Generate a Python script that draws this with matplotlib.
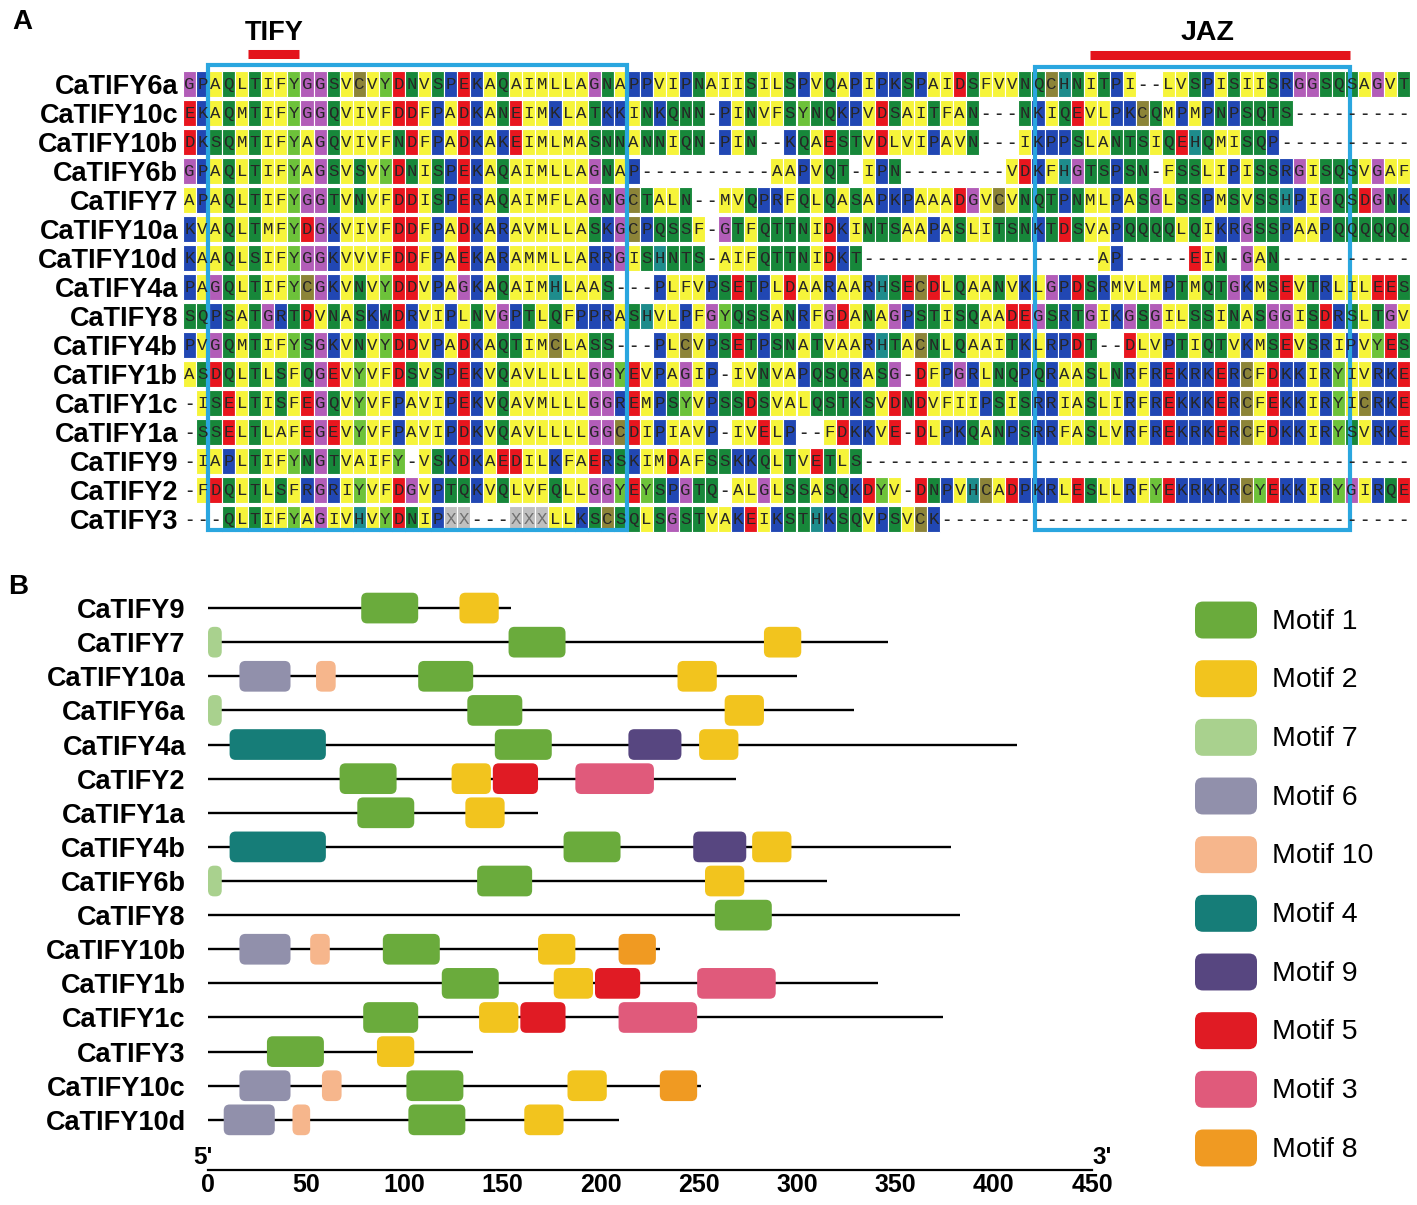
import matplotlib
matplotlib.use("Agg")
import matplotlib.pyplot as plt
from matplotlib.patches import FancyBboxPatch, Rectangle

plt.rcParams['font.family'] = ['Liberation Sans', 'DejaVu Sans']

# ---------------- Panel A data: alignment ----------------
names_a = ["CaTIFY6a", "CaTIFY10c", "CaTIFY10b", "CaTIFY6b", "CaTIFY7", "CaTIFY10a",
           "CaTIFY10d", "CaTIFY4a", "CaTIFY8", "CaTIFY4b", "CaTIFY1b", "CaTIFY1c",
           "CaTIFY1a", "CaTIFY9", "CaTIFY2", "CaTIFY3"]

seqs = [
    "GPAQLTIFYGGSVCVYDNVSPEKAQAIMLLAG" "NA" "PPVIPNAIISILSPVQAPI" "PKSPAIDSFVVN" "QCHNITPI--LVSPISIISRGGSQSAGVT",
    "EKAQMTIFYGGQVIVFDDFPADKANEIMKLAT" "KK" "INKQNN-PINVFSYNQKPV" "DSAITFAN---N" "KIQEVLPKCQMPMPNPSQTS---------",
    "DKSQMTIFYAGQVIVFNDFPADKAKEIMLMAS" "NN" "ANNIQN-PIN--KQAESTV" "DLVIPAVN---I" "KPPSLANTSIQEHQMISQP----------",
    "GPAQLTIFYAGSVSVYDNISPEKAQAIMLLAG" "NA" "P----------AAPVQT-I" "PN--------VD" "KFHGTSPSN-FSSLIPISSRGISQSVGAF",
    "APAQLTIFYGGTVNVFDDISPERAQAIMFLAG" "NG" "CTALN--MVQPRFQLQASA" "PKPAAADGVCVN" "QTPNMLPASGLSSPMSVSSHPIGQSDGNK",
    "KVAQLTMFYDGKVIVFDDFPADKARAVMLLAS" "KG" "CPQSSF-GTFQTTNIDKIN" "TSAAPASLITSN" "KTDSVAPQQQQLQIKRGSSPAAPQQQQQQ",
    "KAAQLSIFYGGKVVVFDDFPAEKARAMMLLAR" "RG" "ISHNTS-AIFQTTNIDKT-" "------------" "-----AP-----EIN-GAN----------",
    "PAGQLTIFYCGKVNVYDDVPAGKAQAIMHLAA" "S-" "--PLFVPSETPLDAARAAR" "HSECDLQAANVK" "LGPDSRMVLMPTMQTGKMSEVTRLILEES",
    "SQPSATGRTDVNASKWDRVIPLNVGPTLQFPP" "RA" "SHVLPFGYQSSANRFGDAN" "AGPSTISQAADE" "GSRTGIKGSGILSSINASGGISDRSLTGV",
    "PVGQMTIFYSGKVNVYDDVPADKAQTIMCLAS" "S-" "--PLCVPSETPSNATVAAR" "HTACNLQAAITK" "LRPDT--DLVPTIQTVKMSEVSRIPVYES",
    "ASDQLTLSFQGEVYVFDSVSPEKVQAVLLLLG" "GY" "EVPAGIP-IVNVAPQSQRA" "SG-DFPGRLNQP" "QRAASLNRFREKRKERCFDKKIRYIVRKE",
    "-ISELTISFEGQVYVFPAVIPEKVQAVMLLLG" "GR" "EMPSYVPSSDSVALQSTKS" "VDNDVFIIPSIS" "RRIASLIRFREKKKERCFEKKIRYICRKE",
    "-SSELTLAFEGEVYVFPAVIPDKVQAVLLLLG" "GC" "DIPIAVP-IVELP--FDKK" "VE-DLPKQANPS" "RRFASLVRFREKRKERCFDKKIRYSVRKE",
    "-IAPLTIFYNGTVAIFY-VSKDKAEDILKFAE" "RS" "KIMDAFSSKKQLTVETLS-" "------------" "-----------------------------",
    "-FDQLTLSFRGRIYVFDGVPTQKVQLVFQLLG" "GY" "EYSPGTQ-ALGLSSASQKD" "YV-DNPVHCADP" "KRLESLLRFYEKRKKRCYEKKIRYGIRQE",
    "---QLTIFYAGIVHVYDNIPXX---XXXLLKS" "CS" "QLSGSTVAKEIKSTHKSQV" "PSVCK-------" "-----------------------------",
]

# domain boxes (alignment columns / rows)
tify_box = (1.92, 34.0)
jaz_box = (65.3, 89.4)
tify_bar = (5.0, 8.9)
jaz_bar = (69.5, 89.4)

# residue colour classes
res_color = {}
for r in "AILMFV":
    res_color[r] = "#F6F43A"
for r in "STNQW":
    res_color[r] = "#17873A"
for r in "KRP":
    res_color[r] = "#2147B3"
for r in "DE":
    res_color[r] = "#E8161E"
res_color["G"] = "#B25DB8"
res_color["Y"] = "#6DC23A"
res_color["C"] = "#8C8438"
res_color["H"] = "#1E8C8C"
res_color["X"] = "#C0C0C0"

# ---------------- Panel B data: motifs ----------------
genes_b = ["CaTIFY9", "CaTIFY7", "CaTIFY10a", "CaTIFY6a", "CaTIFY4a", "CaTIFY2",
           "CaTIFY1a", "CaTIFY4b", "CaTIFY6b", "CaTIFY8", "CaTIFY10b", "CaTIFY1b",
           "CaTIFY1c", "CaTIFY3", "CaTIFY10c", "CaTIFY10d"]
lengths_b = [154, 346, 300, 329, 412, 269, 168, 378, 315, 383, 230, 341, 374, 135, 251, 209]

hit_gene = ["CaTIFY9", "CaTIFY9",
            "CaTIFY7", "CaTIFY7", "CaTIFY7",
            "CaTIFY10a", "CaTIFY10a", "CaTIFY10a", "CaTIFY10a",
            "CaTIFY6a", "CaTIFY6a", "CaTIFY6a",
            "CaTIFY4a", "CaTIFY4a", "CaTIFY4a", "CaTIFY4a",
            "CaTIFY2", "CaTIFY2", "CaTIFY2", "CaTIFY2",
            "CaTIFY1a", "CaTIFY1a",
            "CaTIFY4b", "CaTIFY4b", "CaTIFY4b", "CaTIFY4b",
            "CaTIFY6b", "CaTIFY6b", "CaTIFY6b",
            "CaTIFY8",
            "CaTIFY10b", "CaTIFY10b", "CaTIFY10b", "CaTIFY10b", "CaTIFY10b",
            "CaTIFY1b", "CaTIFY1b", "CaTIFY1b", "CaTIFY1b",
            "CaTIFY1c", "CaTIFY1c", "CaTIFY1c", "CaTIFY1c",
            "CaTIFY3", "CaTIFY3",
            "CaTIFY10c", "CaTIFY10c", "CaTIFY10c", "CaTIFY10c", "CaTIFY10c",
            "CaTIFY10d", "CaTIFY10d", "CaTIFY10d", "CaTIFY10d"]
hit_motif = [1, 2,
             7, 1, 2,
             6, 10, 1, 2,
             7, 1, 2,
             4, 1, 9, 2,
             1, 2, 5, 3,
             1, 2,
             4, 1, 9, 2,
             7, 1, 2,
             1,
             6, 10, 1, 2, 8,
             1, 2, 5, 3,
             1, 2, 5, 3,
             1, 2,
             6, 10, 1, 2, 8,
             6, 10, 1, 2]
hit_start = [78, 128,
             0, 153, 283,
             16, 55, 107, 239,
             0, 132, 263,
             11, 146, 214, 250,
             67, 124, 145, 187,
             76, 131,
             11, 181, 247, 277,
             0, 137, 253,
             258,
             16, 52, 89, 168, 209,
             119, 176, 197, 249,
             79, 138, 159, 209,
             30, 86,
             16, 58, 101, 183, 230,
             8, 43, 102, 161]
hit_end = [107, 148,
           7, 182, 302,
           42, 65, 135, 259,
           7, 160, 283,
           60, 175, 241, 270,
           96, 144, 168, 227,
           105, 151,
           60, 210, 274, 297,
           7, 165, 273,
           287,
           42, 62, 118, 187, 228,
           148, 196, 220, 289,
           107, 158, 182, 249,
           59, 105,
           42, 68, 130, 203, 249,
           34, 52, 131, 181]

legend_order = [1, 2, 7, 6, 10, 4, 9, 5, 3, 8]
motif_color = {1: "#6AAB3C", 2: "#F2C41E", 7: "#A9D18E", 6: "#9190AB", 10: "#F6B68C",
               4: "#167D78", 9: "#574680", 5: "#E01B24", 3: "#E05A7B", 8: "#F09A22"}

W, H = 1417, 1205
fig = plt.figure(figsize=(W / 100, H / 100), dpi=100)


def add_px_axes(left, top, right, bottom):
    return fig.add_axes([left / W, 1 - bottom / H, (right - left) / W, (bottom - top) / H])


# ---------------- Panel A ----------------
axA = add_px_axes(183, 69.5, 1410, 533.5)
ncol = len(seqs[0])
nrow = len(seqs)
axA.set_xlim(0, ncol)
axA.set_ylim(nrow, 0)
for i, s in enumerate(seqs):
    cols = [j for j, c in enumerate(s) if c != "-"]
    axA.bar([j + 0.5 for j in cols], 0.88, width=1, bottom=i + 0.06,
            color=[res_color[s[j]] for j in cols], edgecolor="white", linewidth=0.8)
    for j, c in enumerate(s):
        axA.text(j + 0.5, i + 0.52, c, ha="center", va="center",
                 family="Liberation Mono", fontsize=12.5,
                 fontweight="bold" if c == "-" else "normal",
                 color="#707070" if c == "X" else "#262626")

blue = "#2AA6DF"
for (x0, x1), (y0, y1) in [(tify_box, (-0.16, 15.88)), (jaz_box, (-0.09, 15.88))]:
    axA.add_patch(Rectangle((x0, y0), x1 - x0, y1 - y0, fill=False, ec=blue, lw=3, clip_on=False))

red = "#E3131B"
axA.plot(tify_bar, [-0.55, -0.55], color=red, lw=6.5, solid_capstyle="butt", clip_on=False)
axA.plot(jaz_bar, [-0.5, -0.5], color=red, lw=6.5, solid_capstyle="butt", clip_on=False)
axA.text(sum(tify_bar) / 2, -1.27, "TIFY", ha="center", va="center", fontsize=19.5,
         fontweight="bold", clip_on=False)
axA.text(78.5, -1.27, "JAZ", ha="center", va="center", fontsize=20.5,
         fontweight="bold", clip_on=False)

for sp in axA.spines.values():
    sp.set_visible(False)
axA.set_xticks([])
axA.set_yticks([i + 0.5 for i in range(nrow)], names_a, fontsize=19.5, fontweight="bold")
axA.tick_params(axis="y", length=0, pad=3.5)

# ---------------- Panel B ----------------
axB = add_px_axes(208, 591, 1092, 1170)
axB.set_xlim(0, 450)
axB.set_ylim(16.47, -0.5)
for i, L in enumerate(lengths_b):
    axB.hlines(i, 0, L, color="black", lw=1.7, zorder=1)
for g, m, s0, s1 in zip(hit_gene, hit_motif, hit_start, hit_end):
    y = genes_b.index(g)
    axB.add_patch(FancyBboxPatch((s0, y - 0.45), s1 - s0, 0.9,
                                 boxstyle="round,pad=0,rounding_size=3",
                                 mutation_aspect=0.06, fc=motif_color[m], ec="none",
                                 zorder=3))

for side in ["top", "right", "left"]:
    axB.spines[side].set_visible(False)
axB.spines["bottom"].set_linewidth(1.6)
axB.set_xticks(range(0, 451, 50))
axB.set_xticklabels([str(v) for v in range(0, 451, 50)], fontsize=18, fontweight="bold")
axB.tick_params(axis="x", length=0, pad=2.5)
axB.set_yticks(range(len(genes_b)), genes_b, fontsize=19.5, fontweight="bold")
axB.tick_params(axis="y", length=0, pad=16)
xt = axB.get_xaxis_transform()
axB.text(-2.5, 0.002, "5'", transform=xt, ha="center", va="bottom", fontsize=17.5, fontweight="bold")
axB.text(455, 0.002, "3'", transform=xt, ha="center", va="bottom", fontsize=17.5, fontweight="bold")

# legend
axL = add_px_axes(1190, 590.7, 1417, 1177.3)
axL.set_xlim(0, 227)
axL.set_ylim(len(legend_order) - 0.5, -0.5)
axL.axis("off")
for k, m in enumerate(legend_order):
    axL.add_patch(FancyBboxPatch((5, k - 0.315), 62, 0.63,
                                 boxstyle="round,pad=0,rounding_size=8",
                                 mutation_aspect=0.017, fc=motif_color[m], ec="none"))
    axL.text(82, k + 0.03, "Motif %d" % m, ha="left", va="center", fontsize=20.5)

fig.text(12 / W, 1 - 22 / H, "A", fontsize=20, fontweight="bold", va="center", ha="left")
fig.text(8 / W, 1 - 587 / H, "B", fontsize=20, fontweight="bold", va="center", ha="left")

fig.savefig("out.png", dpi=100)
